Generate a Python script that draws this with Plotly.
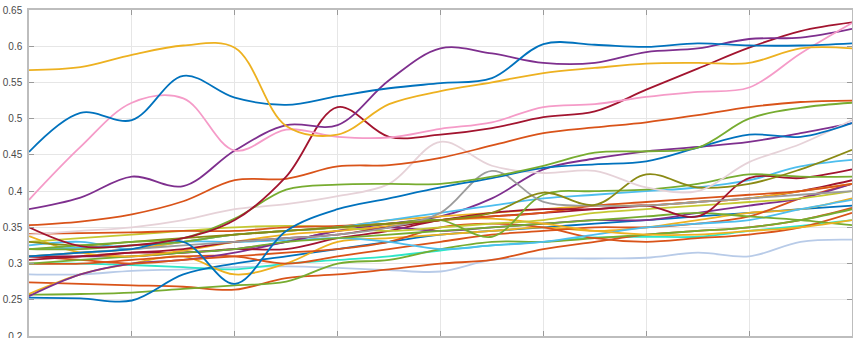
import plotly.graph_objects as go

# x positions (knots); gridlines every 2 units
x_vals = list(range(17))

yellow_top   = [0.567,0.571,0.588,0.601,0.598,0.49,0.478,0.52,0.538,0.55,0.563,0.57,0.576,0.577,0.577,0.597,0.597]
blue_top     = [0.454,0.508,0.498,0.559,0.529,0.519,0.531,0.542,0.549,0.556,0.603,0.602,0.599,0.604,0.601,0.601,0.604]
pink_top     = [0.388,0.461,0.522,0.528,0.456,0.485,0.475,0.474,0.486,0.495,0.516,0.52,0.530,0.537,0.543,0.59,0.632]
purple_top   = [0.375,0.391,0.42,0.407,0.456,0.491,0.491,0.553,0.597,0.59,0.577,0.577,0.592,0.597,0.61,0.612,0.624]
darkred_top  = [0.35,0.324,0.325,0.335,0.36,0.42,0.516,0.475,0.478,0.487,0.502,0.51,0.54,0.569,0.598,0.621,0.633]
orange_top   = [0.353,0.358,0.368,0.386,0.415,0.417,0.434,0.436,0.446,0.463,0.48,0.488,0.495,0.505,0.516,0.523,0.525]
green_top    = [0.32,0.325,0.33,0.335,0.362,0.402,0.409,0.41,0.41,0.42,0.435,0.453,0.455,0.46,0.5,0.515,0.522]
blue_dip     = [0.31,0.315,0.32,0.33,0.272,0.345,0.375,0.39,0.405,0.418,0.432,0.437,0.441,0.46,0.478,0.475,0.494]
purple_low   = [0.255,0.285,0.3,0.305,0.315,0.33,0.345,0.355,0.365,0.39,0.43,0.445,0.455,0.461,0.468,0.48,0.494]
lightpink    = [0.34,0.345,0.35,0.36,0.375,0.382,0.393,0.41,0.468,0.435,0.425,0.428,0.405,0.40,0.44,0.465,0.498]
gray_peak    = [0.31,0.315,0.32,0.325,0.33,0.335,0.34,0.35,0.37,0.428,0.385,0.38,0.38,0.385,0.39,0.395,0.4]
olive_wave   = [0.33,0.325,0.33,0.335,0.34,0.345,0.35,0.355,0.36,0.37,0.398,0.381,0.423,0.405,0.41,0.43,0.457]
cyan_line    = [0.3,0.3,0.298,0.295,0.292,0.3,0.305,0.31,0.318,0.325,0.33,0.336,0.337,0.337,0.345,0.352,0.36]
lightblue    = [0.285,0.285,0.29,0.292,0.295,0.296,0.294,0.291,0.289,0.305,0.307,0.307,0.308,0.315,0.31,0.33,0.333]
orange_low   = [0.274,0.272,0.27,0.268,0.264,0.28,0.285,0.292,0.3,0.305,0.32,0.33,0.34,0.345,0.35,0.36,0.377]
orange_flat  = [0.341,0.342,0.343,0.345,0.345,0.35,0.352,0.355,0.36,0.365,0.37,0.38,0.385,0.39,0.395,0.4,0.41]
yellow_low   = [0.258,0.285,0.3,0.31,0.285,0.3,0.33,0.335,0.34,0.345,0.35,0.345,0.35,0.36,0.37,0.375,0.39]
yellow_mid   = [0.338,0.315,0.31,0.318,0.33,0.34,0.345,0.352,0.36,0.362,0.355,0.345,0.34,0.34,0.345,0.35,0.36]
yellowgreen  = [0.33,0.335,0.34,0.345,0.35,0.352,0.35,0.345,0.35,0.355,0.36,0.37,0.375,0.38,0.385,0.39,0.4]
green_low    = [0.257,0.258,0.26,0.265,0.27,0.275,0.3,0.305,0.32,0.33,0.33,0.335,0.34,0.345,0.35,0.36,0.375]
green_wave   = [0.32,0.32,0.325,0.33,0.34,0.345,0.35,0.355,0.36,0.337,0.395,0.4,0.402,0.41,0.423,0.42,0.42]
green_down   = [0.3,0.305,0.31,0.315,0.32,0.33,0.335,0.34,0.345,0.35,0.355,0.36,0.365,0.37,0.365,0.36,0.353]
skyblue_a    = [0.32,0.322,0.325,0.33,0.34,0.345,0.35,0.36,0.37,0.38,0.39,0.395,0.4,0.405,0.415,0.434,0.443]
skyblue_b    = [0.325,0.33,0.32,0.33,0.33,0.332,0.335,0.33,0.32,0.325,0.33,0.34,0.35,0.355,0.36,0.375,0.388]
darkred_b    = [0.305,0.31,0.315,0.315,0.32,0.32,0.335,0.345,0.36,0.365,0.37,0.375,0.38,0.385,0.39,0.4,0.415]
darkred_wave = [0.31,0.31,0.315,0.32,0.33,0.335,0.34,0.35,0.36,0.37,0.375,0.375,0.38,0.365,0.418,0.418,0.43]
purple_c     = [0.31,0.31,0.31,0.315,0.32,0.33,0.345,0.35,0.345,0.35,0.355,0.36,0.36,0.37,0.38,0.39,0.41]
orange_d     = [0.31,0.305,0.3,0.305,0.31,0.315,0.32,0.33,0.35,0.355,0.35,0.335,0.33,0.335,0.34,0.35,0.37]
blue_low     = [0.253,0.252,0.249,0.285,0.3,0.31,0.32,0.33,0.34,0.345,0.35,0.355,0.36,0.365,0.37,0.375,0.38]
yellow_c     = [0.31,0.315,0.32,0.33,0.34,0.345,0.35,0.36,0.365,0.37,0.375,0.38,0.38,0.385,0.39,0.4,0.41]
orange_e     = [0.3,0.3,0.305,0.31,0.31,0.3,0.31,0.32,0.33,0.34,0.345,0.35,0.35,0.355,0.365,0.39,0.41]

y_tick_vals = [0.2, 0.25, 0.3, 0.35, 0.4, 0.45, 0.5, 0.55, 0.6, 0.65]
y_tick_text = ["0.2", "0.25", "0.3", "0.35", "0.4", "0.45", "0.5", "0.55", "0.6", "0.65"]

BLUE, ORANGE, YELLOW, PURPLE = "#0072BD", "#D95319", "#EDB120", "#7E2F8E"
GREEN, SKY, DRED = "#77AC30", "#4DBEEE", "#A2142F"

series = [
    (lightblue, "#B8CBE8"), (cyan_line, "#2EE6C8"), (orange_low, ORANGE), (green_low, GREEN),
    (blue_low, BLUE), (yellow_low, YELLOW), (orange_e, ORANGE), (purple_low, PURPLE),
    (orange_d, ORANGE), (darkred_b, DRED), (skyblue_b, SKY), (purple_c, PURPLE),
    (yellow_c, YELLOW), (green_down, GREEN), (yellow_mid, YELLOW), (yellowgreen, "#C4C832"),
    (orange_flat, ORANGE), (skyblue_a, SKY), (darkred_wave, DRED), (green_wave, GREEN),
    (gray_peak, "#9C9C9C"), (olive_wave, "#8A8A14"), (lightpink, "#E6D2D8"), (blue_dip, BLUE),
    (green_top, GREEN), (orange_top, ORANGE), (darkred_top, DRED), (purple_top, PURPLE),
    (pink_top, "#F59BC8"), (blue_top, BLUE), (yellow_top, YELLOW),
]

fig = go.Figure()
for ys, col in series:
    fig.add_trace(go.Scatter(x=x_vals, y=ys, mode="lines",
                             line=dict(color=col, width=1.8, shape="spline", smoothing=1.0),
                             showlegend=False, hoverinfo="skip"))

fig.update_layout(
    width=853, height=338,
    margin=dict(l=29, r=1, t=10, b=2, autoexpand=False),
    paper_bgcolor="white", plot_bgcolor="white",
    font=dict(family="Liberation Sans, Arial, sans-serif", size=10, color="#4a4a4a"),
)
fig.update_xaxes(range=[0, 16], tickvals=list(range(0, 17, 2)), showticklabels=False,
                 showgrid=True, gridcolor="#e6e6e6", gridwidth=1, zeroline=False,
                 showline=True, linecolor="#bdbdbd", linewidth=1.5, mirror="allticks",
                 ticks="inside", ticklen=5, tickcolor="#9a9a9a", automargin=False)
fig.update_yaxes(range=[0.2, 0.65], tickvals=y_tick_vals, ticktext=y_tick_text,
                 showgrid=True, gridcolor="#e6e6e6", gridwidth=1, zeroline=False,
                 showline=True, linecolor="#bdbdbd", linewidth=1.5, mirror="allticks",
                 ticks="inside", ticklen=5, tickcolor="#9a9a9a", ticklabelstandoff=3,
                 ticklabeloverflow="allow", automargin=False)

fig.write_html("out.html")
